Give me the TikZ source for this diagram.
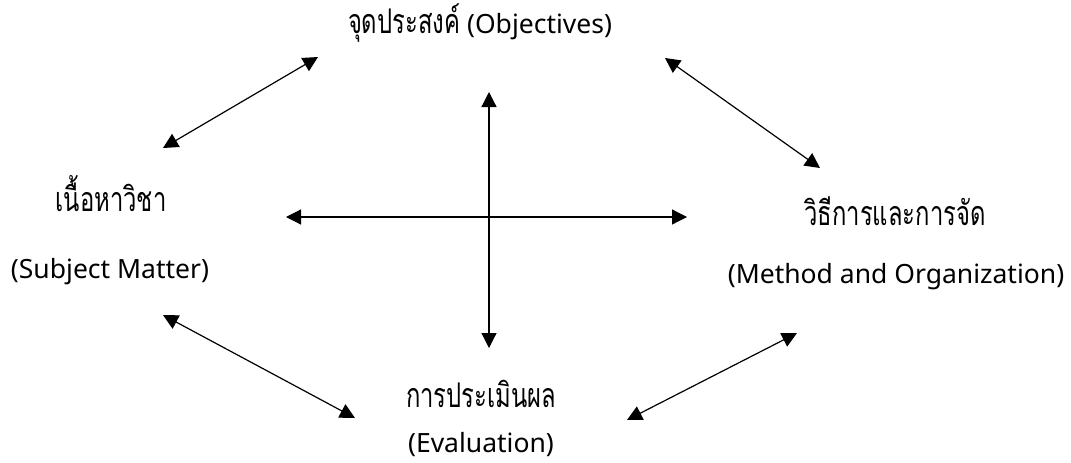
\documentclass[tikz,border=0pt]{standalone}
\usepackage{fontspec}
\setmainfont{Noto Sans}
\newfontfamily\thaifont[Script=Thai,FakeStretch=0.7]{Loma}
\usetikzlibrary{arrows.meta}

\begin{document}
\begin{tikzpicture}[x=1pt,y=-1pt,
    every node/.style={font=\fontsize{26.5}{32}\selectfont,inner sep=0pt,anchor=base},
    th/.style={font=\fontsize{34}{38}\selectfont\thaifont},
    link/.style={{Triangle[length=15pt,width=15pt]}-{Triangle[length=15pt,width=15pt]},line width=1.2pt}]
  \useasboundingbox (0,0) rectangle (1071,463);
  % labels
  \node (obj) at (480,33) {{\fontsize{34}{38}\selectfont\thaifont จุดประสงค์} (Objectives)};
  \node[th] (subTh) at (111,211) {เนื้อหาวิชา};
  \node (subEn) at (110,278) {(Subject Matter)};
  \node[th] (metTh) at (895,225) {วิธีการและการจัด};
  \node (metEn) at (896,283) {(Method and Organization)};
  \node[th] (evaTh) at (481,407) {การประเมินผล};
  \node (evaEn) at (481,452) {(Evaluation)};
  % arrow ends
  \coordinate (tl1) at (163,148); \coordinate (tl2) at (318,57);
  \coordinate (tr1) at (665,58);  \coordinate (tr2) at (820,168);
  \coordinate (bl1) at (163,315); \coordinate (bl2) at (355,418);
  \coordinate (br1) at (627,420); \coordinate (br2) at (797,333);
  \coordinate (vt) at (489,92);   \coordinate (vb) at (489,348);
  \coordinate (hl) at (286,217);  \coordinate (hr) at (687,217);
  \draw[link] (tl1) -- (tl2);
  \draw[link] (tr1) -- (tr2);
  \draw[link] (bl1) -- (bl2);
  \draw[link] (br1) -- (br2);
  \draw[link] (vt) -- (vb);
  \draw[link] (hl) -- (hr);
\end{tikzpicture}
\end{document}
